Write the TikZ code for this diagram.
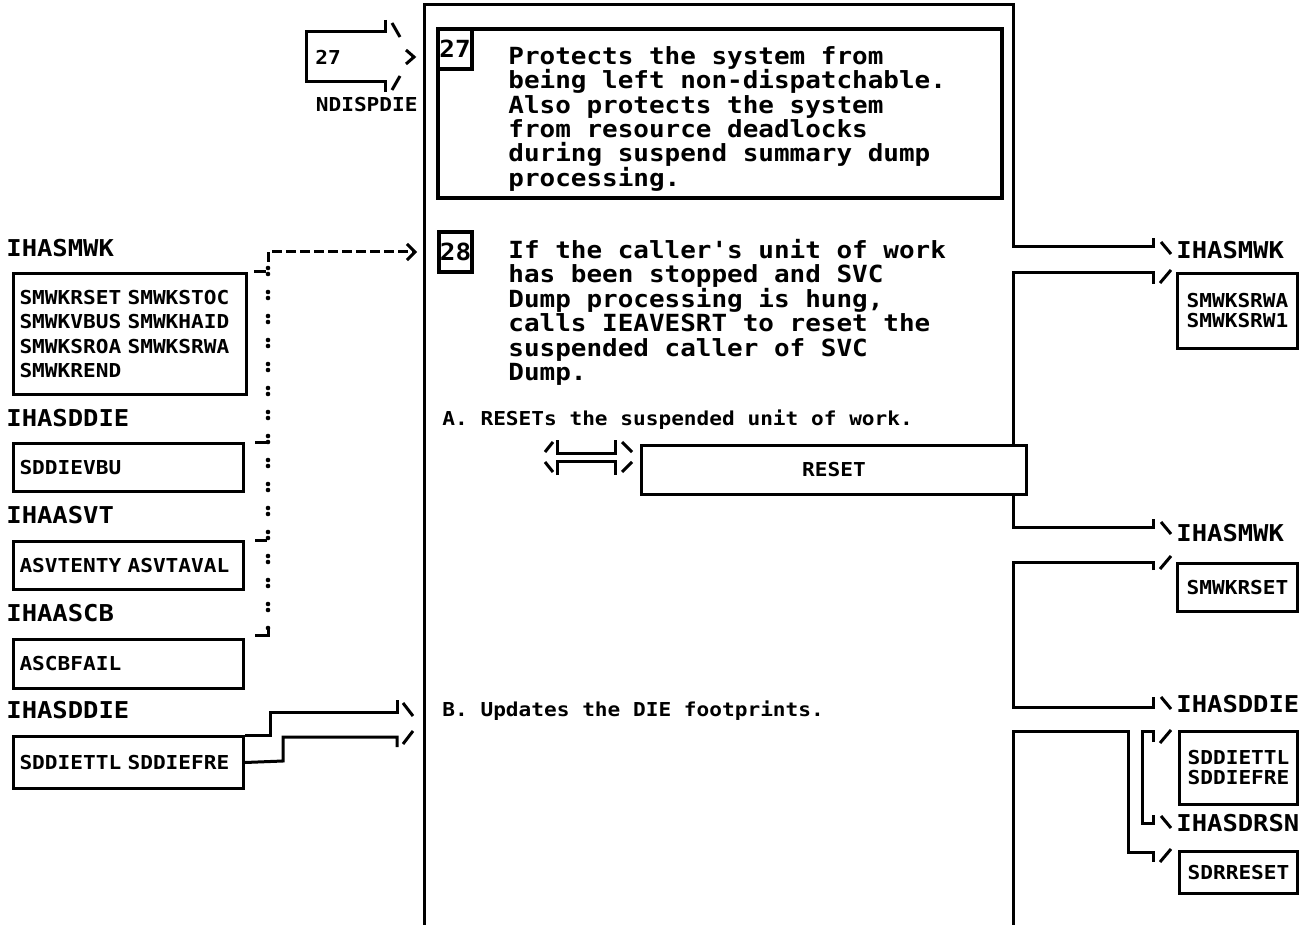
\documentclass[tikz,border=0pt]{standalone}
\usepackage{fontspec}
\newfontfamily\ibmfont{DejaVu Sans Mono}[FakeStretch=1.1]
\usetikzlibrary{arrows.meta}

\tikzset{
  wire/.style={line width=1.5pt},
  heavy/.style={line width=2pt},
  bigtext/.style={font=\ibmfont\bfseries\fontsize{11.8}{12.2}\selectfont},
  headtext/.style={font=\ibmfont\bfseries\fontsize{11.6}{12}\selectfont, inner sep=0pt, anchor=west},
  smalltext/.style={font=\ibmfont\bfseries\fontsize{9.6}{12.3}\selectfont},
  fieldbox/.style={draw, wire, smalltext, anchor=north west, align=left, inner xsep=3pt, inner ysep=0pt},
  rightbox/.style={draw, wire, font=\ibmfont\bfseries\fontsize{9.6}{10}\selectfont, anchor=north west, align=center, inner xsep=3pt, inner ysep=0pt},
  numbox/.style={draw, heavy, bigtext, anchor=north west, inner sep=0pt, minimum width=17pt, minimum height=20pt},
  dotline/.style={line width=2.3pt, line cap=round, dash pattern=on 0pt off 3pt on 0pt off 9pt},
  dashline/.style={line width=1.5pt, dash pattern=on 5pt off 2pt},
}

\begin{document}
\begin{tikzpicture}[x=0.5pt,y=-0.5pt]
  \useasboundingbox (0,0) rectangle (1306,925);

  % incoming step 27 arrow
  \node[smalltext, anchor=west, inner sep=0pt] (ref27) at (315,57) {27};
  \node[smalltext, anchor=east, inner sep=0pt] (ndisp) at (418,105) {NDISPDIE};
  \draw[wire] (385,20) -- (385,32) -- (306,32) -- (306,82) -- (385,82) -- (385,92);
  \draw[wire] (392,23) -- (400,37);
  \draw[wire] (392,90) -- (400,76);
  \draw[wire] (406,50) -- (414,57) -- (406,64);

  % main column
  \draw[wire] (424,925) -- (424,5) -- (1013,5) -- (1013,247) -- (1153,247) -- (1153,238);
  \draw[wire] (1153,284) -- (1153,273) -- (1013,273) -- (1013,527) -- (1153,527) -- (1153,519);
  \draw[wire] (1153,570) -- (1153,562) -- (1013,562) -- (1013,707) -- (1153,707) -- (1153,697);
  \draw[wire] (1013,925) -- (1013,731) -- (1128,731) -- (1128,852) -- (1153,852) -- (1153,862);
  \draw[wire] (1153,742) -- (1153,731) -- (1142,731) -- (1142,823) -- (1153,823) -- (1153,815);

  % step 27
  \node[draw, heavy, anchor=north west, minimum width=282pt, minimum height=84.5pt, inner sep=0pt] (box27) at (436,27) {};
  \node[numbox] (num27) at (box27.north west) {27};
  \node[bigtext, anchor=north west, align=left, inner sep=0pt] (txt27) at (508,46)
    {Protects the system from\\being left non-dispatchable.\\Also protects the system\\from resource deadlocks\\during suspend summary dump\\processing.};

  % step 28
  \node[numbox, minimum width=16.5pt] (num28) at (437,230) {28};
  \node[bigtext, anchor=north west, align=left, inner sep=0pt] (txt28) at (508,239)
    {If the caller's unit of work\\has been stopped and SVC\\Dump processing is hung,\\calls IEAVESRT to reset the\\suspended caller of SVC\\Dump.};
  \node[smalltext, anchor=west, inner sep=0pt] (stepA) at (442,420) {A. RESETs the suspended unit of work.};
  \node[smalltext, anchor=west, inner sep=0pt] (stepB) at (442,711) {B. Updates the DIE footprints.};

  % RESET exchange
  \node[draw, wire, fill=white, smalltext, anchor=north west, minimum width=192.5pt, minimum height=24.5pt, inner sep=0pt] (reset) at (640,444) {RESET};
  \draw[wire] (557,440) -- (557,453) -- (615,453) -- (615,440);
  \draw[wire] (557,475) -- (557,461) -- (615,461) -- (615,475);
  \draw[wire] (545,452) -- (553,442);
  \draw[wire] (545,462) -- (553,472);
  \draw[wire] (622,442) -- (632,452);
  \draw[wire] (622,472) -- (632,462);

  % left input areas
  \node[headtext] (hsmwk) at (6,248) {IHASMWK};
  \node[fieldbox, text width=110.5pt, minimum height=60.5pt] (smwk) at (12,272)
    {SMWKRSET SMWKSTOC\\SMWKVBUS SMWKHAID\\SMWKSROA SMWKSRWA\\SMWKREND};
  \node[headtext] (hsddie) at (6,418) {IHASDDIE};
  \node[fieldbox, text width=109pt, minimum height=24pt] (sddie) at (12,442) {SDDIEVBU};
  \node[headtext] (hasvt) at (6,515) {IHAASVT};
  \node[fieldbox, text width=109pt, minimum height=24pt] (asvt) at (12,540) {ASVTENTY ASVTAVAL};
  \node[headtext] (hascb) at (6,613) {IHAASCB};
  \node[fieldbox, text width=109pt, minimum height=24.5pt] (ascb) at (12,638) {ASCBFAIL};
  \node[headtext] (hsddie2) at (6,710) {IHASDDIE};
  \node[fieldbox, text width=109pt, minimum height=26pt] (sddie2) at (12,735) {SDDIETTL SDDIEFRE};

  % dotted reference line into step 28
  \coordinate (dottop) at (268,251);
  \coordinate (dotbot) at (268,635);
  \draw[dotline] (268,268) -- (268,628);
  \draw[dashline, -{Straight Barb[length=4pt,width=8pt,line width=1.5pt]}] (268,262) |- ([xshift=-10pt]num28.west);
  \draw[wire] ([xshift=3pt]smwk.north east) -- ++(6pt,0);
  \draw[wire] ([xshift=5pt]sddie.north east) -- ++(6pt,0);
  \draw[wire] ([xshift=5pt]asvt.north east) -- ++(6pt,0);
  \draw[wire] ([xshift=5pt,yshift=1.5pt]ascb.north east) -- (dotbot) -- (268,627);

  % updated DIE fields into step B
  \draw[wire] (sddie2.north east) -- (270,735) -- (270,712) -- (397,712) -- (397,700);
  \draw[wire] (sddie2.east) -- (283,761) -- (283,737) -- (397,737) -- (397,747);
  \draw[wire] (403,703) -- (413,716);
  \draw[wire] (403,744) -- (413,731);

  % right output areas
  \node[headtext] (rsmwk) at (1176,250) {IHASMWK};
  \draw[wire] (1161,242) -- (1171,254);
  \draw[wire] (1160,283) -- (1171,270);
  \node[rightbox, text width=54pt, minimum height=37.5pt] (srwa) at (1176,272) {SMWKSRWA\\SMWKSRW1};

  \node[headtext] (rsmwk2) at (1176,533) {IHASMWK};
  \draw[wire] (1161,522) -- (1171,534);
  \draw[wire] (1160,569) -- (1171,556);
  \node[rightbox, text width=54pt, minimum height=24pt] (srset) at (1176,562) {SMWKRSET};

  \node[headtext] (rsddie) at (1176,704) {IHASDDIE};
  \draw[wire] (1161,697) -- (1171,709);
  \draw[wire] (1160,743) -- (1171,730);
  \node[rightbox, text width=53pt, minimum height=36.5pt] (sdfre) at (1178,730) {SDDIETTL\\SDDIEFRE};

  \node[headtext] (rsdrsn) at (1176,823) {IHASDRSN};
  \draw[wire] (1161,816) -- (1171,828);
  \draw[wire] (1160,862) -- (1171,849);
  \node[rightbox, text width=53pt, minimum height=21pt] (sdres) at (1178,850) {SDRRESET};
\end{tikzpicture}
\end{document}
